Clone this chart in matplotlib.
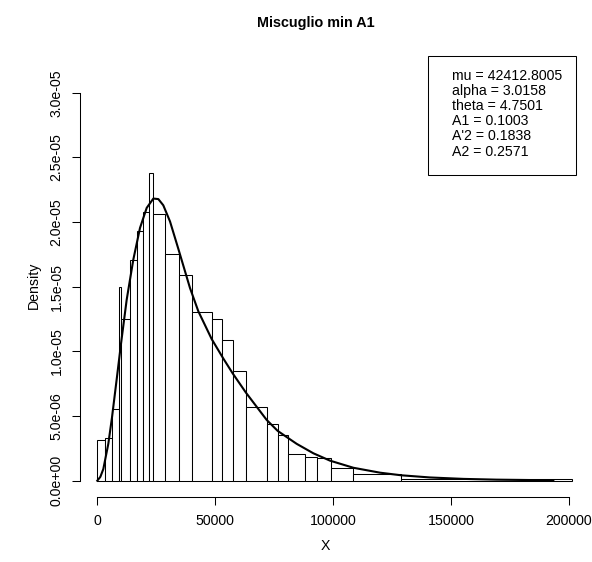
import numpy as np
import matplotlib
matplotlib.use("Agg")
import matplotlib.pyplot as plt
from matplotlib.patches import Rectangle

plt.rcParams['font.family'] = ['Liberation Sans', 'DejaVu Sans']

# histogram breaks (unequal widths) and densities
breaks = [0, 3130, 6240, 9200, 10060, 13870, 16700, 19250, 21800, 23780,
          28870, 34530, 40330, 48540, 52770, 57440, 63100, 71860, 76540,
          81000, 88130, 93080, 99020, 108650, 128870, 201300]
density = [3.15, 3.28, 5.52, 15.0, 12.5, 17.1, 19.3, 20.8, 23.8, 20.6,
           17.5, 15.9, 13.07, 12.48, 10.88, 8.48, 5.72, 4.36, 3.51,
           2.04, 1.86, 1.73, 1.0, 0.49, 0.1]  # x 1e-6

# fitted density curve
curve_x = [0, 1300, 2550, 4670, 6240, 8230, 10060, 12470, 15280, 18120,
           20960, 23780, 25900, 28000, 30850, 34530, 39330, 42870, 48540,
           53460, 57440, 63100, 71860, 76540, 81770, 84600, 91670, 98740,
           108650, 119960, 128870, 141170, 155300, 169470, 193490]
curve_y = [0, 0.3, 0.9, 2.85, 4.9, 7.85, 10.6, 14.0, 17.1, 19.55,
           21.1, 21.82, 21.78, 21.3, 20.05, 17.84, 14.9, 13.1, 10.95,
           9.45, 8.3, 6.8, 4.7, 3.85, 3.2, 2.85, 2.12, 1.55,
           1.0, 0.62, 0.42, 0.25, 0.14, 0.08, 0.03]  # x 1e-6

legend_lines = ["mu = 42412.8005", "alpha = 3.0158", "theta = 4.7501",
                "A1 = 0.1003", "A'2 = 0.1838", "A2 = 0.2571"]

xticks = [0, 50000, 100000, 150000, 200000]
yticks = [0, 5e-6, 1e-5, 1.5e-5, 2e-5, 2.5e-5, 3e-5]
ytick_labels = ["0.0e+00", "5.0e-06", "1.0e-05", "1.5e-05", "2.0e-05",
                "2.5e-05", "3.0e-05"]

W, H = 592, 562
fs = 10.2
fig = plt.figure(figsize=(W / 100, H / 100), dpi=100)

# plot region in pixels
left, right, top, bottom = 80, 590, 50, 497.3
ax = fig.add_axes([left / W, 1 - bottom / H, (right - left) / W, (bottom - top) / H])

x0_px, xs = 97.3, 471.4 / 200000   # px of x=0, px per unit
y0_px, ys = 480.7, 12.93 / 1e-6    # px of y=0, px per unit
ax.set_xlim((left - x0_px) / xs, (right - x0_px) / xs)
ax.set_ylim((y0_px - bottom) / ys, (y0_px - top) / ys)

widths = np.diff(breaks)
heights = np.array(density) * 1e-6
ax.bar(breaks[:-1], heights, width=widths, align='edge', color='white',
       edgecolor='black', linewidth=0.75)

ax.plot(curve_x, np.array(curve_y) * 1e-6, color='black', linewidth=1.5,
        solid_joinstyle='round')

for s in ['top', 'right']:
    ax.spines[s].set_visible(False)
ax.spines['left'].set_bounds(0, 3e-5)
ax.spines['bottom'].set_bounds(0, 200000)
for s in ['left', 'bottom']:
    ax.spines[s].set_linewidth(0.75)

ax.set_xticks(xticks)
ax.set_xticklabels([str(t) for t in xticks])
ax.set_yticks(yticks)
ax.set_yticklabels(ytick_labels, rotation=90, va='center')
ax.tick_params(length=5.8, width=0.75, labelsize=fs, pad=6)

fig.text(315.5 / W, 1 - 26.7 / H, "Miscuglio min A1", ha='center',
         va='baseline', fontsize=10.4, fontweight='bold')
fig.text(325 / W, 1 - 546 / H, "X", ha='center', va='center', fontsize=fs)
fig.text(34 / W, 1 - 285 / H, "Density", ha='center', va='center',
         rotation=90, fontsize=fs)

# legend box
bx0, by0, bx1, by1 = 427.7, 55.7, 576, 175.3
fig.patches.append(Rectangle((bx0 / W, 1 - by1 / H), (bx1 - bx0) / W,
                             (by1 - by0) / H, transform=fig.transFigure,
                             fill=False, edgecolor='black', linewidth=0.75))
for i, line in enumerate(legend_lines):
    fig.text(452.3 / W, 1 - (75.7 + 15.2 * i) / H, line, ha='left',
             va='center', fontsize=fs)

fig.savefig("out.png", dpi=100)
